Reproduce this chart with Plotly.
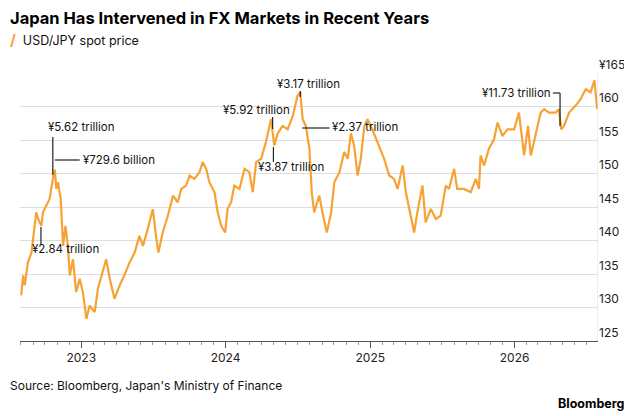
import plotly.graph_objects as go
import pandas as pd

dates = ["2022-08-02","2022-08-07","2022-08-11","2022-08-19","2022-08-28","2022-09-05","2022-09-09","2022-09-14","2022-09-22","2022-09-26",
"2022-10-05","2022-10-13","2022-10-21","2022-10-26","2022-10-30","2022-11-03","2022-11-10","2022-11-16","2022-11-22","2022-11-28",
"2022-12-03","2022-12-11","2022-12-19","2022-12-28","2023-01-05","2023-01-14","2023-01-22","2023-02-04","2023-02-12","2023-02-25",
"2023-03-05","2023-03-14","2023-03-26","2023-04-08","2023-04-20","2023-05-03","2023-05-16","2023-05-28","2023-06-06","2023-06-18",
"2023-07-01","2023-07-09","2023-07-15","2023-07-26","2023-08-08","2023-08-21","2023-09-02","2023-09-11","2023-09-23","2023-10-02",
"2023-10-14","2023-10-27","2023-11-04","2023-11-13","2023-11-21","2023-12-04","2023-12-12","2023-12-21","2023-12-31","2024-01-06",
"2024-01-15","2024-01-23","2024-02-05","2024-02-18","2024-03-01","2024-03-10","2024-03-18","2024-03-31","2024-04-12","2024-04-25",
"2024-05-03","2024-05-12","2024-05-24","2024-06-06","2024-06-19","2024-07-01","2024-07-08","2024-07-14","2024-07-22","2024-07-31",
"2024-08-06","2024-08-12","2024-08-25","2024-09-02","2024-09-13","2024-09-24","2024-10-02","2024-10-15","2024-10-27","2024-11-05",
"2024-11-13","2024-11-21","2024-11-30","2024-12-08","2024-12-17","2024-12-25","2025-01-06","2025-01-19","2025-02-05","2025-02-18",
"2025-03-02","2025-03-11","2025-03-24","2025-04-01","2025-04-14","2025-04-22","2025-04-30","2025-05-13","2025-05-21","2025-06-03",
"2025-06-16","2025-06-28","2025-07-11","2025-07-19","2025-08-01","2025-08-09","2025-08-26","2025-09-12","2025-09-25","2025-10-03",
"2025-10-07","2025-10-16","2025-10-28","2025-11-10","2025-11-19","2025-12-01","2025-12-14","2025-12-31","2026-01-12","2026-01-25",
"2026-02-04","2026-02-11","2026-02-24","2026-03-08","2026-03-17","2026-03-29","2026-04-15","2026-04-23","2026-04-29","2026-05-06",
"2026-05-19","2026-06-04","2026-06-17","2026-06-30","2026-07-12","2026-07-22","2026-07-29"]
usdjpy = [131.8,134.8,133.3,136.7,138.2,142.2,144.2,143.2,142.2,144.2,
145.2,146.2,149.2,150.6,147.7,148.7,146.2,139.2,142.2,139.2,
134.8,137.2,132.3,134.3,132.3,128.3,130.3,129.3,132.8,135.8,
137.2,134.3,131.3,133.3,134.8,136.7,138.2,140.7,139.2,141.7,
144.7,140.7,138.2,141.2,143.7,146.7,145.7,147.7,148.2,149.7,
149.2,150.2,151.7,150.7,148.7,147.2,144.2,142.2,141.2,144.7,
145.7,148.2,147.7,150.7,150.2,147.2,151.7,152.2,154.7,158.1,
154.2,156.0,157.1,156.6,158.6,161.6,162.1,158.1,157.1,153.7,
147.2,144.2,146.7,144.2,141.2,144.2,148.7,150.2,153.2,152.2,
156.0,154.2,149.7,152.2,157.1,158.1,156.6,154.7,152.2,149.7,
149.2,147.7,151.2,147.2,143.7,141.2,144.2,148.2,142.7,144.7,
143.2,143.7,148.2,147.7,150.7,147.7,147.7,147.2,149.2,147.7,
152.7,151.2,153.7,155.1,157.6,155.6,156.6,156.6,159.1,152.7,
157.1,152.7,156.0,159.1,159.6,159.1,159.1,159.6,156.6,157.1,
159.1,160.1,161.1,162.6,162.1,163.9,159.6]

labels = ["¥2.84 trillion","¥5.62 trillion","¥729.6 billion","¥5.92 trillion","¥3.87 trillion","¥3.17 trillion","¥2.37 trillion","¥11.73 trillion"]

ORANGE = "#f7a235"

def pxd(px):
    d = (px * 3 - 220) * 0.842
    return (pd.Timestamp("2023-01-01") + pd.Timedelta(days=d)).strftime("%Y-%m-%d")

def pxv(py):
    return 165 - (py - 74) / 6.7

fig = go.Figure()
fig.add_trace(go.Scatter(x=dates, y=usdjpy, mode="lines", line=dict(color=ORANGE, width=2.2), showlegend=False))

segs = [(33, 228, 33, 246), (45, 138, 45, 176), (47, 161, 72, 161), (265, 118, 265, 130),
        (266, 148, 266, 163), (293, 92, 293, 98), (295, 129, 322, 129),
        (546, 94, 553, 94), (553, 94, 553, 127)]
for x1, y1, x2, y2 in segs:
    fig.add_shape(type="line", x0=pxd(x1), x1=pxd(x2), y0=pxv(y1), y1=pxv(y2),
                  line=dict(color="#222", width=1.2))
pos = [(22, 250, "left"), (38, 128, "left"), (73, 161, "left"), (284, 111, "right"),
       (249, 168, "left"), (267, 85, "left"), (322, 128, "left"), (546, 94, "right")]
for t, (x, y, a) in zip(labels, pos):
    fig.add_annotation(x=pxd(x), y=pxv(y), text=t, showarrow=False, xanchor=a, yanchor="middle",
                       font=dict(size=11.5, color="#111"))

fig.add_shape(type="line", xref="x", yref="paper", x0="2026-07-31", x1="2026-07-31", y0=0, y1=1,
              line=dict(color="#ddd", width=1))

fig.add_annotation(xref="paper", yref="paper", x=-0.02, y=1, xanchor="left", yanchor="bottom",
                   text="<b>Japan Has Intervened in FX Markets in Recent Years</b>", showarrow=False,
                   font=dict(size=16.5, color="#000"), yshift=43)
fig.add_annotation(xref="paper", yref="paper", x=-0.02, y=1, xanchor="left", yanchor="bottom",
                   text="<span style='color:%s;font-size:15px'><b>/</b></span>  USD/JPY spot price" % ORANGE, showarrow=False,
                   font=dict(size=12.5, color="#111"), yshift=22)
fig.add_annotation(xref="paper", yref="paper", x=-0.02, y=0, xanchor="left", yanchor="top",
                   text="Source: Bloomberg, Japan's Ministry of Finance", showarrow=False,
                   font=dict(size=12, color="#111"), yshift=-35)
fig.add_annotation(xref="paper", yref="paper", x=1.05, y=0, xanchor="right", yanchor="top",
                   text="<b>Bloomberg</b>", showarrow=False,
                   font=dict(size=12.5, color="#000"), yshift=-53)

fig.update_layout(
    width=632, height=416, margin=dict(l=12, r=42, t=65, b=83, autoexpand=False),
    paper_bgcolor="white", plot_bgcolor="white",
    font=dict(family="Inter, Helvetica, Arial, sans-serif", color="#333"),
    xaxis=dict(range=["2022-07-30", "2026-07-31"], showgrid=False, tickvals=["2023-01-01","2024-01-01","2025-01-01","2026-01-01"],
               ticktext=["2023","2024","2025","2026"], ticks="outside", ticklen=6, tickcolor="#555",
               showline=True, linecolor="#555", tickfont=dict(size=12, color="#222"), automargin=False,
               minor=dict(dtick="M1", ticks="outside", ticklen=3, tickcolor="#999")),
    yaxis=dict(side="right", range=[125, 165], tickvals=[125,130,135,140,145,150,155,160,165],
               ticktext=["125","130","135","140","145","150","155","160","¥165"],
               gridcolor="#ddd", showline=False, zeroline=False, ticks="", automargin=False,
               ticklabelposition="outside top", tickfont=dict(size=12, color="#222")),
)
fig.write_html("out.html")
